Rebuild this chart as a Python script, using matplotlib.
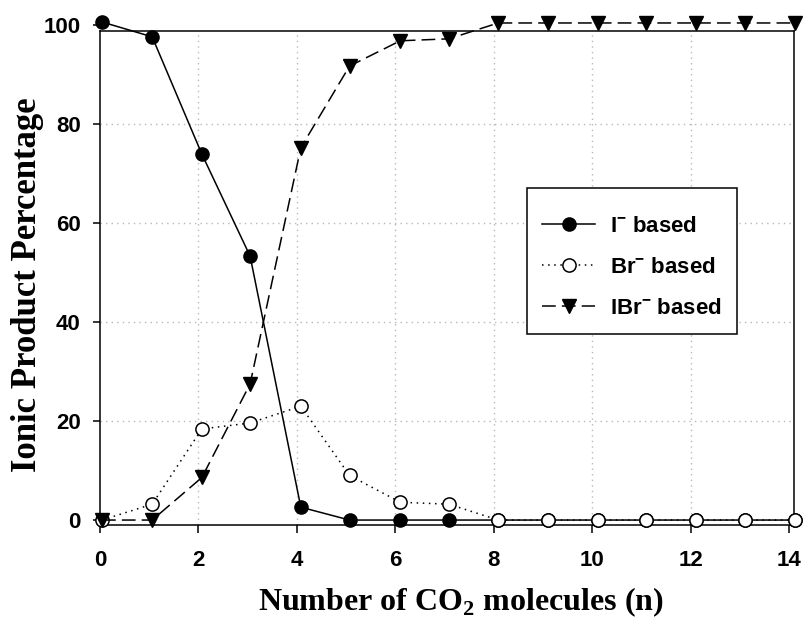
import matplotlib
matplotlib.use("Agg")
import matplotlib.pyplot as plt
from matplotlib.patches import Rectangle

# values
n_pos = [0.04, 1.06, 2.07, 3.05, 4.08, 5.07, 6.1, 7.09, 8.09, 9.1, 10.12, 11.1, 12.1, 13.1, 14.12]
i_based = [100.6, 97.6, 73.9, 53.3, 2.6, 0, 0, 0, 0, 0, 0, 0, 0, 0, 0]
br_based = [0, 3.2, 18.4, 19.6, 23.0, 9.0, 3.6, 3.2, 0, 0, 0, 0, 0, 0, 0]
ibr_based = [0, 0, 8.6, 27.5, 75.2, 91.7, 96.8, 97.2, 100.4, 100.4, 100.4, 100.4, 100.4, 100.4, 100.4]

labels = ["I$^\\mathregular{-}$ based", "Br$^\\mathregular{-}$ based", "IBr$^\\mathregular{-}$ based"]
x_ticks = [0, 2, 4, 6, 8, 10, 12, 14]
y_ticks = [0, 20, 40, 60, 80, 100]
grid_x = [2, 4, 6, 8, 10, 12]
grid_y = [20, 40, 60, 80]

plt.rcParams["font.family"] = ["Liberation Sans", "DejaVu Sans"]
plt.rcParams["font.weight"] = "bold"

W, H = 804, 625
fig = plt.figure(figsize=(W / 100, H / 100), dpi=100)
ax = fig.add_axes([100 / W, (H - 525) / H, 694 / W, 505 / H])

frame_top = 98.8
ax.set_xlim(0, 14.1)
ax.set_ylim(-1, 101)

lw = 1.1
for s in ["left", "right", "top", "bottom"]:
    ax.spines[s].set_linewidth(lw)
ax.spines["top"].set_position(("data", frame_top))
ax.spines["left"].set_bounds(-1, frame_top)
ax.spines["right"].set_bounds(-1, frame_top)

# dotted light grid inside the frame
ax.vlines(grid_x, -1, frame_top, colors="#b8b8b8", linestyles=(0, (1, 3)), linewidth=1.0, zorder=0)
ax.hlines(grid_y, 0, 14.1, colors="#b8b8b8", linestyles=(0, (1, 3)), linewidth=1.0, zorder=0)

ax.plot(n_pos, i_based, color="black", linestyle="-", linewidth=lw,
        marker="o", markersize=9.5, markerfacecolor="black", markeredgecolor="black",
        label=labels[0], clip_on=False, zorder=3)
ax.plot(n_pos, br_based, color="black", linestyle=(0, (1, 3)), linewidth=lw,
        marker="o", markersize=9.5, markerfacecolor="white", markeredgecolor="black",
        markeredgewidth=1.1, label=labels[1], clip_on=False, zorder=3)
ax.plot(n_pos, ibr_based, color="black", linestyle=(0, (9, 4)), linewidth=lw,
        marker="v", markersize=10.5, markerfacecolor="black", markeredgecolor="black",
        label=labels[2], clip_on=False, zorder=3)

ax.set_xticks(x_ticks)
ax.set_yticks(y_ticks)
ax.tick_params(axis="x", direction="out", length=6, width=lw, pad=12, labelsize=16)
ax.tick_params(axis="y", direction="out", length=5, width=lw, pad=9, labelsize=16)
for t in ax.get_xticklabels() + ax.get_yticklabels():
    t.set_fontweight("bold")

# legend box
ax.add_patch(Rectangle((527 / W, 1 - 334 / H), 210 / W, 146 / H, transform=fig.transFigure,
                       facecolor="white", edgecolor="black", linewidth=lw, zorder=4, clip_on=False))
leg = ax.legend(loc="upper left", bbox_to_anchor=(542 / W, 1 - 216 / H),
                bbox_transform=fig.transFigure, frameon=False, borderpad=0, borderaxespad=0,
                handlelength=2.4, handletextpad=0.65, labelspacing=0.9,
                prop={"family": "Liberation Sans", "weight": "bold", "size": 16})
leg.set_zorder(5)

fig.text(28 / W, 1 - 285 / H, "Ionic Product Percentage", rotation=90,
         ha="center", va="center", family="Liberation Serif", weight="bold", fontsize=25)
fig.text(461 / W, 1 - 610 / H, "Number of CO$_\\mathregular{2}$ molecules (n)",
         ha="center", va="baseline", family="Liberation Serif", weight="bold", fontsize=23)

fig.savefig("out.png", dpi=100)
